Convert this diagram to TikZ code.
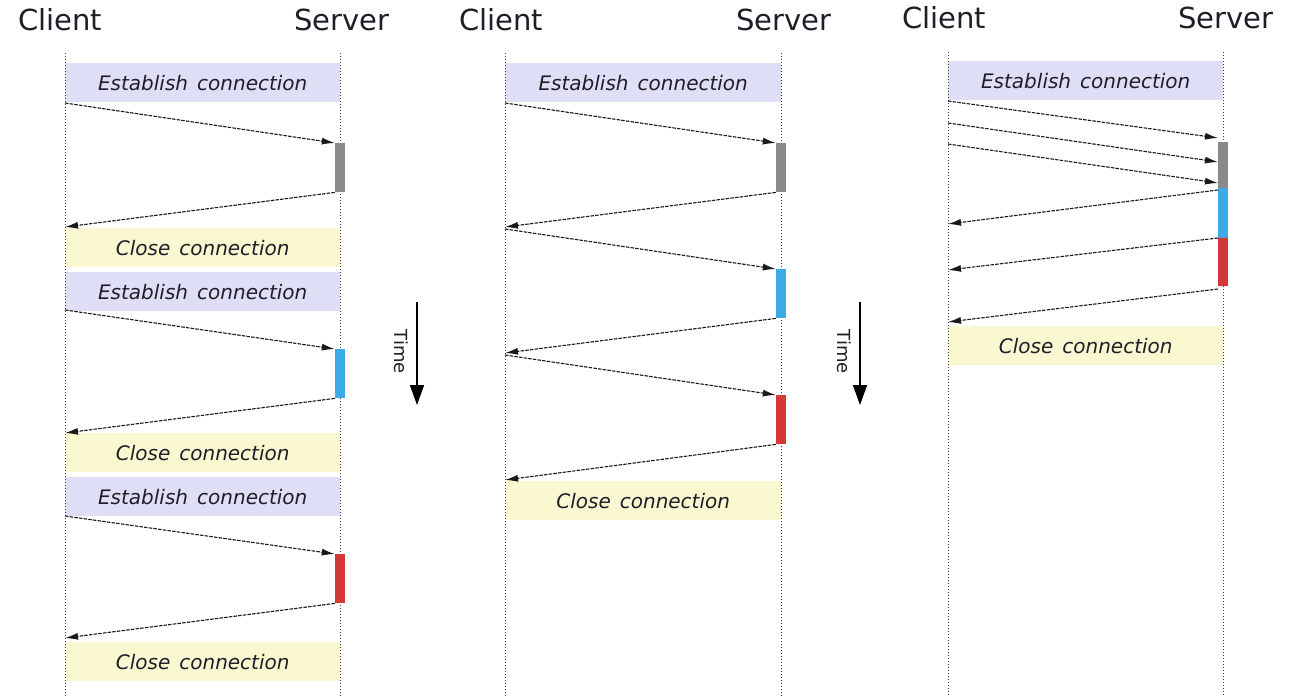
\documentclass[tikz,border=0pt]{standalone}
\usepackage{fontspec}
\setmainfont{DejaVu Sans}
\usetikzlibrary{arrows.meta}
\definecolor{estcol}{RGB}{222,222,247}
\definecolor{clocol}{RGB}{250,248,208}
\definecolor{barg}{RGB}{138,138,138}
\definecolor{barb}{RGB}{60,170,228}
\definecolor{barr}{RGB}{214,56,56}
\definecolor{txt}{RGB}{30,30,40}
\newcommand\myWideSpace{\spaceskip=9pt\relax}
\begin{document}
\begin{tikzpicture}[x=1pt,y=-1pt,
 actor/.style={font=\fontsize{29}{34}\selectfont, text=txt, inner sep=0},
 lifeline/.style={dotted, line width=1pt, draw=black!75},
 phase/.style={anchor=north west, minimum width=275pt, minimum height=39pt, inner sep=0, font=\fontsize{20}{24}\selectfont\itshape\myWideSpace, text=txt},
 est/.style={phase, fill=estcol},
 clo/.style={phase, fill=clocol},
 bar/.style={anchor=north, minimum width=10pt, minimum height=49pt, inner sep=0},
 msg/.style={draw=black!90, line width=1.1pt, dash pattern=on 3.5pt off 1.2pt, -{Latex[length=13pt,width=7pt]}},
 timearrow/.style={line width=1.6pt, -{Triangle[length=20pt,width=14pt]}},
 timelabel/.style={font=\fontsize{18}{21}\selectfont, text=txt, rotate=-90, inner sep=0},
]
\useasboundingbox[fill=white] (0,0) rectangle (1293,696);

% ---------------- Panel 1 ----------------
\node[actor] (cl1) at (60,20) {Client};
\node[actor] (sv1) at (342,20) {Server};
\coordinate (c1t) at (65,53); \coordinate (c1b) at (65,696);
\coordinate (s1t) at (340,53); \coordinate (s1b) at (340,696);
\node[est] (e11) at (65,63) {Establish connection};
\node[clo] (k11) at (65,228) {Close connection};
\node[est] (e12) at (65,272) {Establish connection};
\node[clo] (k12) at (65,433) {Close connection};
\node[est] (e13) at (65,477) {Establish connection};
\node[clo] (k13) at (65,642) {Close connection};
\draw[lifeline] (c1t) -- (c1b);
\draw[lifeline] (s1t) -- (s1b);
\node[bar, fill=barg] (b11) at (340,143) {};
\node[bar, fill=barb] (b12) at (340,349) {};
\node[bar, fill=barr] (b13) at (340,554) {};
\coordinate (p11) at (65,103); \coordinate (q11) at (65,227);
\coordinate (p12) at (65,310); \coordinate (q12) at (65,433);
\coordinate (p13) at (65,516); \coordinate (q13) at (65,638);
\draw[msg] (p11) -- (b11.north west);
\draw[msg] (b11.south west) -- (q11);
\draw[msg] (p12) -- (b12.north west);
\draw[msg] (b12.south west) -- (q12);
\draw[msg] (p13) -- (b13.north west);
\draw[msg] (b13.south west) -- (q13);

% time arrow 1
\coordinate (t1a) at (417,302); \coordinate (t1b) at (417,405);
\draw[timearrow] (t1a) -- (t1b);
\node[timelabel] (tl1) at (401,352) {Time};

% ---------------- Panel 2 ----------------
\node[actor] (cl2) at (501,20) {Client};
\node[actor] (sv2) at (784,20) {Server};
\coordinate (c2t) at (505,53); \coordinate (c2b) at (505,696);
\coordinate (s2t) at (781,53); \coordinate (s2b) at (781,696);
\node[est, minimum width=276pt] (e21) at (505,63) {Establish connection};
\node[clo, minimum width=276pt] (k21) at (505,481) {Close connection};
\draw[lifeline] (c2t) -- (c2b);
\draw[lifeline] (s2t) -- (s2b);
\node[bar, fill=barg] (b21) at (781,143) {};
\node[bar, fill=barb] (b22) at (781,269) {};
\node[bar, fill=barr] (b23) at (781,395) {};
\coordinate (p21) at (505,103); \coordinate (q21) at (505,227);
\coordinate (p22) at (505,229); \coordinate (q22) at (505,353);
\coordinate (p23) at (505,355); \coordinate (q23) at (505,480);
\draw[msg] (p21) -- (b21.north west);
\draw[msg] (b21.south west) -- (q21);
\draw[msg] (p22) -- (b22.north west);
\draw[msg] (b22.south west) -- (q22);
\draw[msg] (p23) -- (b23.north west);
\draw[msg] (b23.south west) -- (q23);

% time arrow 2
\coordinate (t2a) at (860,302); \coordinate (t2b) at (860,405);
\draw[timearrow] (t2a) -- (t2b);
\node[timelabel] (tl2) at (844,352) {Time};

% ---------------- Panel 3 ----------------
\node[actor] (cl3) at (944,18) {Client};
\node[actor] (sv3) at (1226,18) {Server};
\coordinate (c3t) at (948,52); \coordinate (c3b) at (948,696);
\coordinate (s3t) at (1223,52); \coordinate (s3b) at (1223,696);
\node[est] (e31) at (948,61) {Establish connection};
\node[clo] (k31) at (948,326) {Close connection};
\draw[lifeline] (c3t) -- (c3b);
\draw[lifeline] (s3t) -- (s3b);
\node[bar, fill=barg, minimum height=46pt] (b31) at (1223,142) {};
\node[bar, fill=barb, minimum height=50pt] (b32) at (1223,188) {};
\node[bar, fill=barr, minimum height=48pt] (b33) at (1223,238) {};
\coordinate (p31) at (948,101); \coordinate (r31) at (1218,138);
\coordinate (p32) at (948,123); \coordinate (r32) at (1218,162);
\coordinate (p33) at (948,144); \coordinate (r33) at (1218,183);
\coordinate (u31) at (1218,190); \coordinate (q31) at (948,224);
\coordinate (u32) at (1218,238); \coordinate (q32) at (948,270);
\coordinate (u33) at (1218,289); \coordinate (q33) at (948,322);
\draw[msg] (p31) -- (r31);
\draw[msg] (p32) -- (r32);
\draw[msg] (p33) -- (r33);
\draw[msg] (u31) -- (q31);
\draw[msg] (u32) -- (q32);
\draw[msg] (u33) -- (q33);
\end{tikzpicture}
\end{document}
